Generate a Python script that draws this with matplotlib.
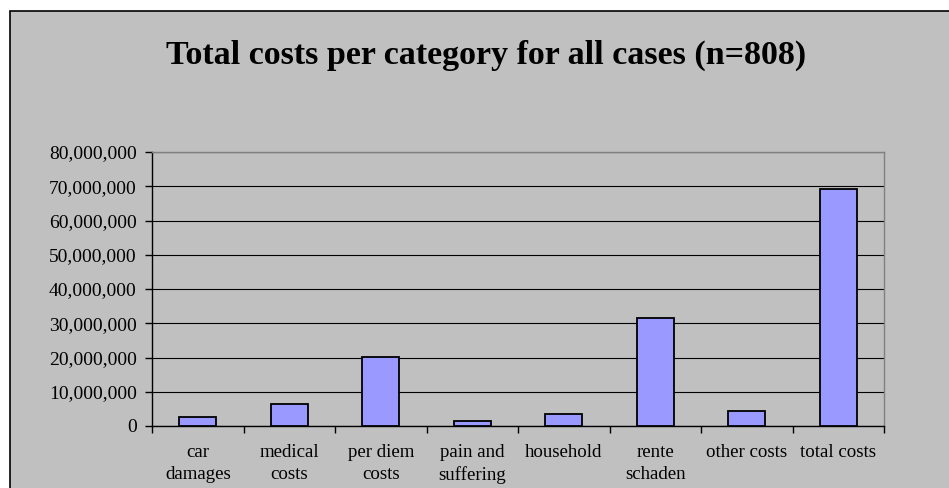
import matplotlib.pyplot as plt
from matplotlib.patches import Rectangle
from matplotlib.ticker import FuncFormatter, FixedLocator

categories = ["car\ndamages", "medical\ncosts", "per diem\ncosts", "pain and\nsuffering",
              "household", "rente\nschaden", "other costs", "total costs"]
values = [2_500_000, 6_300_000, 20_200_000, 1_450_000, 3_400_000,
          31_400_000, 4_400_000, 69_300_000]
y_ticks = list(range(0, 80_000_001, 10_000_000))

W, H = 949, 488
BG = "#C0C0C0"
BAR = "#9999FF"

plt.rcParams["font.family"] = ["Liberation Serif", "DejaVu Serif"]

fig = plt.figure(figsize=(W / 100, H / 100), dpi=100)
fig.patch.set_facecolor("white")

# outer chart area, cropped at right and bottom
fig.patches.append(Rectangle((10 / W, -0.1), 1.2, 1 - 11 / H + 0.1,
                             transform=fig.transFigure, facecolor=BG,
                             edgecolor="black", linewidth=1.2, zorder=-1))

ax = fig.add_axes([152 / W, 1 - 426 / H, (884 - 152) / W, (426 - 152) / H])
ax.set_zorder(2)
ax.set_facecolor(BG)

x = list(range(len(categories)))
ax.bar(x, values, width=0.4, color=BAR, edgecolor="black", linewidth=1.3, zorder=3)

ax.set_xlim(-0.5, len(categories) - 0.5)
ax.set_ylim(0, 80_000_000)
ax.set_yticks(y_ticks)
ax.yaxis.set_major_formatter(FuncFormatter(lambda v, p: f"{int(v):,}"))
ax.grid(axis="y", color="black", linewidth=0.8, zorder=1)

ax.set_xticks(x)
ax.set_xticklabels(categories, fontsize=13.6, linespacing=1.4)
ax.tick_params(axis="x", which="major", length=0, pad=13)
ax.xaxis.set_minor_locator(FixedLocator([i - 0.5 for i in range(len(categories) + 1)]))
ax.tick_params(axis="x", which="minor", length=5, width=1, direction="out")
ax.tick_params(axis="y", length=5, width=1, direction="out", pad=6, labelsize=14)

for s in ["top", "right"]:
    ax.spines[s].set_color("#808080")
    ax.spines[s].set_linewidth(1)
for s in ["left", "bottom"]:
    ax.spines[s].set_color("black")
    ax.spines[s].set_linewidth(1)

fig.text(486 / W, 1 - 55 / H, "Total costs per category for all cases (n=808)",
         ha="center", va="center", fontsize=24.5, fontweight="bold", zorder=3)

fig.savefig("out.png", dpi=100)
